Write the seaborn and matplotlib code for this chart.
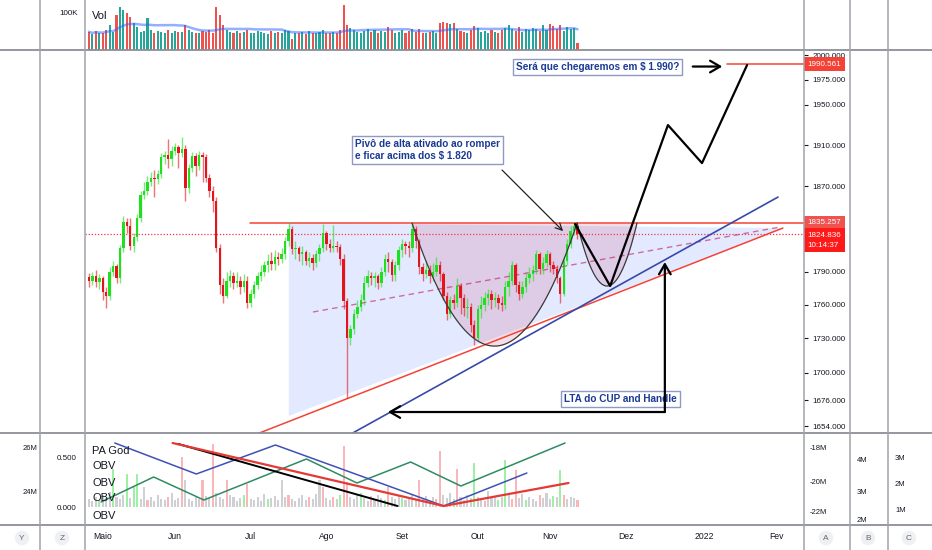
import numpy as np
import pandas as pd
import matplotlib
matplotlib.use("Agg")
import matplotlib.pyplot as plt
from matplotlib import font_manager
from matplotlib.lines import Line2D
import seaborn as sns

# DATA: daily gold candles, first bar 2021-04-27 (business days)
opens = [1785,1782,1786,1781,1784,1772,1768,1790,1795,1784,
         1812,1836,1832,1814,1822,1840,1862,1866,1874,1878,
         1877,1882,1898,1900,1896,1904,1908,1902,1906,1868,
         1888,1899,1890,1900,1898,1878,1866,1856,1812,1778,
         1768,1782,1786,1780,1782,1776,1782,1762,1770,1778,
         1786,1790,1796,1800,1797,1804,1802,1806,1818,1830,
         1811,1812,1806,1808,1800,1803,1798,1806,1812,1826,
         1816,1812,1814,1813,1802,1763,1730,1738,1752,1758,
         1764,1780,1786,1784,1786,1780,1790,1802,1799,1787,
         1796,1810,1816,1814,1812,1830,1818,1794,1788,1792,
         1786,1790,1796,1788,1768,1752,1764,1762,1777,1766,
         1757,1758,1742,1730,1756,1760,1766,1770,1764,1766,
         1762,1760,1776,1782,1796,1778,1770,1776,1784,1788,
         1792,1806,1793,1798,1806,1796,1793,1784,1770,1800,
         1816,1828,1832]
closes = [1782,1786,1781,1784,1772,1768,1790,1795,1784,1812,
          1836,1832,1814,1822,1840,1862,1866,1874,1878,1877,
          1882,1898,1900,1896,1904,1908,1902,1906,1868,1888,
          1899,1890,1900,1898,1878,1866,1856,1812,1778,1768,
          1782,1786,1780,1782,1776,1782,1762,1770,1778,1786,
          1790,1796,1800,1797,1804,1802,1806,1818,1830,1811,
          1812,1806,1808,1800,1803,1798,1806,1812,1826,1816,
          1812,1814,1813,1802,1763,1730,1738,1752,1758,1764,
          1780,1786,1784,1786,1780,1790,1802,1799,1787,1796,
          1810,1816,1814,1812,1830,1818,1794,1788,1792,1786,
          1790,1796,1788,1768,1752,1764,1762,1777,1766,1757,
          1758,1742,1730,1756,1760,1766,1770,1764,1766,1762,
          1760,1776,1782,1796,1778,1770,1776,1784,1788,1792,
          1806,1793,1798,1806,1796,1793,1784,1770,1800,1816,
          1828,1832,1825]
highs = [1789,1790,1792,1788,1786,1776,1794,1800,1797,1815,
         1842,1840,1840,1826,1844,1866,1874,1880,1884,1886,
         1886,1902,1904,1916,1909,1912,1910,1918,1910,1892,
         1903,1902,1904,1903,1901,1882,1870,1860,1816,1784,
         1790,1792,1790,1790,1786,1788,1786,1774,1782,1790,
         1796,1800,1806,1808,1810,1808,1812,1822,1836,1832,
         1818,1814,1814,1810,1808,1806,1810,1816,1834,1828,
         1820,1833,1818,1816,1806,1766,1742,1756,1764,1770,
         1786,1792,1790,1790,1788,1794,1806,1808,1802,1800,
         1814,1820,1818,1818,1835,1832,1820,1798,1800,1796,
         1798,1804,1800,1790,1772,1768,1770,1784,1780,1770,
         1766,1762,1746,1760,1768,1772,1774,1773,1772,1770,
         1768,1782,1790,1800,1798,1782,1782,1790,1794,1796,
         1810,1808,1804,1810,1808,1800,1796,1786,1804,1820,
         1832,1836,1834]
lows = [1776,1778,1776,1774,1764,1757,1764,1786,1780,1780,
        1808,1826,1810,1808,1818,1836,1858,1862,1870,1860,
        1872,1878,1892,1888,1890,1900,1888,1898,1856,1864,
        1884,1880,1886,1874,1874,1860,1846,1808,1770,1762,
        1766,1776,1774,1776,1770,1772,1757,1758,1766,1774,
        1782,1786,1790,1792,1792,1796,1798,1802,1814,1806,
        1802,1800,1796,1796,1794,1792,1794,1800,1808,1810,
        1808,1808,1808,1796,1756,1678,1724,1734,1748,1754,
        1760,1776,1778,1776,1774,1776,1786,1790,1782,1782,
        1792,1804,1806,1804,1808,1812,1788,1782,1784,1780,
        1782,1786,1782,1764,1746,1748,1756,1758,1752,1750,
        1748,1736,1724,1728,1748,1754,1760,1756,1758,1756,
        1754,1756,1768,1778,1772,1764,1766,1772,1780,1782,
        1788,1788,1788,1794,1790,1788,1780,1762,1768,1796,
        1812,1824,1820]
volumes_k = [48,42,50,44,46,52,66,48,92,113,
             105,98,88,70,60,48,50,85,52,46,
             50,48,46,52,44,50,48,47,66,52,
             48,46,44,50,48,52,46,113,92,66,
             52,48,46,50,44,48,52,46,44,50,
             48,46,42,50,44,48,46,52,50,30,
             46,44,48,42,50,44,46,48,52,46,
             44,48,46,52,118,66,58,52,48,46,
             50,54,48,52,46,50,48,60,52,46,
             48,52,46,50,54,48,56,46,44,48,
             50,46,72,74,70,68,72,54,50,48,
             46,52,62,58,48,50,46,52,48,44,
             52,58,66,54,50,60,48,56,52,58,
             54,50,66,52,68,62,56,66,50,60,
             54,58,18]
# lower pane histogram (PA God scale) and its colour code: g grey, r red, v green
ind_hist = [0.08,0.06,0.10,0.07,0.12,0.09,0.15,0.38,0.10,0.08,
            0.12,0.33,0.09,0.20,0.33,0.08,0.20,0.07,0.10,0.06,
            0.12,0.08,0.07,0.10,0.14,0.07,0.09,0.50,0.27,0.08,
            0.06,0.10,0.08,0.27,0.11,0.09,0.63,0.14,0.10,0.08,
            0.27,0.12,0.10,0.06,0.09,0.12,0.23,0.08,0.07,0.10,
            0.06,0.13,0.08,0.09,0.11,0.07,0.27,0.10,0.12,0.08,
            0.06,0.09,0.12,0.07,0.10,0.08,0.13,0.27,0.20,0.09,
            0.07,0.10,0.08,0.12,0.61,0.25,0.10,0.08,0.12,0.14,
            0.09,0.06,0.11,0.08,0.12,0.09,0.07,0.20,0.10,0.08,
            0.12,0.09,0.07,0.10,0.13,0.08,0.27,0.09,0.11,0.07,
            0.10,0.08,0.56,0.12,0.09,0.14,0.08,0.38,0.10,0.07,
            0.12,0.09,0.44,0.10,0.08,0.06,0.16,0.09,0.11,0.07,
            0.10,0.47,0.12,0.08,0.37,0.09,0.13,0.07,0.10,0.08,
            0.06,0.12,0.09,0.14,0.08,0.11,0.10,0.37,0.12,0.08,
            0.10,0.09,0.07]
ind_codes = "".join(["gggvgggvgg", "gvgvvggrgg", "gggrgggrgg", "gggrggrggg",
                     "rggggvrggg", "ggvgggggrg", "ggggrgggrg", "grgvrrgggv",
                     "ggrgggvrgg", "gvggggrggg", "grrgggvrgg", "ggvggrgggv",
                     "gvgrrggvgg", "grgggvgvrg", "ggr"])

month_labels = ["Maio", "Jun", "Jul", "Ago", "Set", "Out", "Nov", "Dez", "2022", "Fev"]
price_ticks = [2000, 1975, 1950, 1910, 1870, 1790, 1760, 1730, 1700, 1676, 1654]

# drawn levels and tools (bar index, price)
resistance = 1835.257
last_price = 1824.836
target = 1990.561
proj_x = [141.3, 151.5, 168.3, 178.2, 191.3]
proj_y = [1834.3, 1777.0, 1929.6, 1892.4, 1989.8]
lta_blue_x = [73.0, 200.3]
lta_blue_y = [1642.3, 1859.8]
lower_red_x = [49.1, 201.7]
lower_red_y = [1647.7, 1830.5]
tri_x = [58.1, 58.1, 202.3]
tri_y = [1835.3, 1662.6, 1830.5]
mid_x = [65.1, 200.9]
mid_y = [1753.5, 1831.5]
cup_span = (93.9, 141.9)
cup_bottom = 1723.2
handle_span = (141.9, 159.3)
handle_bottom = 1777.0

# indicator pane drawings
ind_green_x = [3.5, 18.8, 33.4, 63.2, 77.9, 93.5, 108.1, 138.4]
ind_green_y = [0.05, 0.30, 0.07, 0.48, 0.24, 0.45, 0.21, 0.64]
ind_blue_x = [7.5, 31.2, 54.2, 103.1, 127.3]
ind_blue_y = [0.64, 0.33, 0.62, 0.01, 0.34]
ind_red_x = [24.3, 103.1, 139.4]
ind_red_y = [0.64, 0.01, 0.24]
ind_black_x = [26.0, 89.7]
ind_black_y = [0.63, 0.01]

sns.set_theme(style="white")
names = {f.name for f in font_manager.fontManager.ttflist}
if "Liberation Sans Narrow" in names:
    base_font, note_size, tick_size = "Liberation Sans Narrow", 8.5, 6.5
else:
    base_font, note_size, tick_size = "Liberation Sans", 7.2, 5.8
plt.rcParams["font.family"] = [base_font, "DejaVu Sans"]

W, H = 932, 550
fig = plt.figure(figsize=(W / 100, H / 100), dpi=100)
fig.patch.set_facecolor("white")


def rect(x0, y0, x1, y1):
    return [x0 / W, 1 - y1 / H, (x1 - x0) / W, (y1 - y0) / H]


ax_vol = fig.add_axes(rect(85, 0, 804, 50))
ax = fig.add_axes(rect(85, 50, 804, 433))
ax_ind = fig.add_axes(rect(85, 433, 804, 525))

n = len(closes)
x = np.arange(n)
o = np.array(opens, float)
c = np.array(closes, float)
hi = np.array(highs, float)
lo = np.array(lows, float)
up = c >= o
xlim = (-1.16, 207.85)

# volume pane
vol_cols = np.where(up, "#26a69a", "#ef5350")
ax_vol.bar(x, volumes_k, width=0.6, color=vol_cols, linewidth=0)
vol_ma = pd.Series(volumes_k).rolling(20, min_periods=1).mean()
sns.lineplot(x=x, y=vol_ma.values, ax=ax_vol, color="#2962ff", alpha=0.5, lw=1.8)
ax_vol.set_xlim(*xlim)
ax_vol.set_ylim(0, 131.6)
ax_vol.set_xticks([])
ax_vol.set_yticks([100])
ax_vol.set_yticklabels(["100K"])
ax_vol.tick_params(axis="y", length=0, pad=5, labelsize=tick_size, colors="#131722")
ax_vol.text(0.01, 0.68, "Vol", transform=ax_vol.transAxes, fontsize=8, color="#131722", va="center")

# main pane
ax.set_yscale("log")
ax.set_xlim(*xlim)
ax.set_ylim(1648.2, 2005.2)

ax.fill(tri_x, tri_y, color="#2962ff", alpha=0.13, lw=0)
sns.lineplot(x=mid_x, y=mid_y, ax=ax, color="#c2185b", alpha=0.6, lw=1, dashes=(4, 3), sort=False)

cup_t = np.linspace(cup_span[0], cup_span[1], 120)
cup_c = (cup_span[0] + cup_span[1]) / 2
cup_h = (cup_span[1] - cup_span[0]) / 2
cup_log = np.log(resistance) - (np.log(resistance) - np.log(cup_bottom)) * (1 - ((cup_t - cup_c) / cup_h) ** 2)
han_t = np.linspace(handle_span[0], handle_span[1], 60)
han_c = (handle_span[0] + handle_span[1]) / 2
han_h = (handle_span[1] - handle_span[0]) / 2
han_log = np.log(resistance) - (np.log(resistance) - np.log(handle_bottom)) * (1 - ((han_t - han_c) / han_h) ** 2)
ax.fill_between(cup_t, np.exp(cup_log), resistance, color="#c2185b", alpha=0.14, lw=0)
ax.fill_between(han_t, np.exp(han_log), resistance, color="#c2185b", alpha=0.14, lw=0)

ax.axhline(resistance, xmin=(46.8 - xlim[0]) / (xlim[1] - xlim[0]), color="#f44336", lw=1.1)
ax.axhline(last_price, color="#f23645", lw=0.9, ls=(0, (1, 1.5)))
ax.axhline(target, xmin=(185.5 - xlim[0]) / (xlim[1] - xlim[0]), color="#f44336", lw=1.1)

sns.lineplot(x=lower_red_x, y=lower_red_y, ax=ax, color="#f44336", lw=1.1, sort=False)
sns.lineplot(x=lta_blue_x, y=lta_blue_y, ax=ax, color="#3949ab", lw=1.2, sort=False)

# candles
body_cols = np.where(up, "#1ee01e", "#e3141c")
ax.vlines(x, lo, hi, colors=body_cols, lw=1.0, alpha=0.6)
ax.bar(x, np.maximum(np.abs(c - o), 0.8), bottom=np.minimum(o, c), width=0.7,
       color=body_cols, linewidth=0)

ax.plot(cup_t, np.exp(cup_log), color="#3a3a3a", lw=0.9)
ax.plot(han_t, np.exp(han_log), color="#3a3a3a", lw=0.9)
sns.lineplot(x=proj_x, y=proj_y, ax=ax, color="black", lw=1.6, sort=False)

# annotations
box = dict(boxstyle="square,pad=0.3", fc="white", ec="#8e99c4", lw=1)
txt_kw = dict(color="#1a3a94", fontsize=note_size, fontweight="bold")
ax.text(77.3, 1915.8, "Pivô de alta ativado ao romper\ne ficar acima dos $ 1.820",
        ha="left", va="top", bbox=box, linespacing=1.3, **txt_kw)
ax.annotate("", xy=(138.4, 1825.8), xytext=(119.5, 1887.6),
            arrowprops=dict(arrowstyle="->", color="#222", lw=0.9))
ax.text(124.1, 1988.3, "Será que chegaremos em $ 1.990?", ha="left", va="center", bbox=box, **txt_kw)
ax.annotate("", xy=(184.9, 1988.3), xytext=(174.7, 1988.3),
            arrowprops=dict(arrowstyle="->,head_length=0.6,head_width=0.35", color="black", lw=1.6))
ax.text(138.1, 1677.1, "LTA do CUP and Handle", ha="left", va="center", bbox=box, **txt_kw)
ax.annotate("", xy=(86.9, 1666.0), xytext=(167.4, 1666.0),
            arrowprops=dict(arrowstyle="->,head_length=0.6,head_width=0.35", color="black", lw=1.6,
                            shrinkA=0, shrinkB=0))
ax.annotate("", xy=(167.4, 1798.9), xytext=(167.4, 1666.0),
            arrowprops=dict(arrowstyle="->,head_length=0.6,head_width=0.35", color="black", lw=1.6,
                            shrinkA=0, shrinkB=0))

ax.set_xticks([])
ax.set_yticks(price_ticks)
ax.set_yticklabels([f"{p:.3f}" for p in price_ticks])
ax.yaxis.set_minor_locator(matplotlib.ticker.NullLocator())
ax.yaxis.tick_right()
ax.tick_params(axis="y", length=3, width=0.8, pad=3, labelsize=tick_size, colors="#131722")

lab_tf = ax.get_yaxis_transform()
lab_kw = dict(transform=lab_tf, ha="left", va="center", color="white", fontsize=tick_size)
ax.text(1.005, target, "1990.561", bbox=dict(boxstyle="square,pad=0.45", fc="#f44336", ec="none"), **lab_kw)
ax.text(1.005, resistance, "1835.257", bbox=dict(boxstyle="square,pad=0.45", fc="#ef5350", ec="none"), **lab_kw)
ax.text(1.005, 1819.3, "1824.836\n10:14:37", linespacing=1.6,
        bbox=dict(boxstyle="square,pad=0.45", fc="#ff1a1a", ec="none"), **lab_kw)

# indicator pane
code_cols = {"g": "#9598a1", "r": "#f77c80", "v": "#5ee66a"}
code_alpha = {"g": 0.45, "r": 0.55, "v": 0.6}
for code in "grv":
    m = np.array([ch == code for ch in ind_codes])
    ax_ind.bar(x[m], np.array(ind_hist)[m], width=0.6, color=code_cols[code], alpha=code_alpha[code], linewidth=0)
sns.lineplot(x=ind_green_x, y=ind_green_y, ax=ax_ind, color="#2e8b62", lw=1.1, sort=False)
sns.lineplot(x=ind_blue_x, y=ind_blue_y, ax=ax_ind, color="#3f51b5", lw=1.1, sort=False)
sns.lineplot(x=ind_black_x, y=ind_black_y, ax=ax_ind, color="black", lw=1.4, sort=False)
sns.lineplot(x=ind_red_x, y=ind_red_y, ax=ax_ind, color="#e53935", lw=1.6, sort=False)
ax_ind.set_xlim(*xlim)
ax_ind.set_ylim(-0.18, 0.74)
ax_ind.set_yticks([0, 0.5])
ax_ind.set_yticklabels(["0.000", "0.500"])
ax_ind.tick_params(axis="y", length=0, pad=6, labelsize=tick_size, colors="#131722")

dates = pd.bdate_range("2021-04-27", periods=215)
pos = pd.Series(np.arange(len(dates)), index=dates)
firsts = pos.groupby([dates.year, dates.month]).first().values[1:1 + len(month_labels)]
ax_ind.set_xticks(firsts)
ax_ind.set_xticklabels(month_labels)
ax_ind.tick_params(axis="x", length=0, pad=5, labelsize=tick_size + 0.4, colors="#131722")

pix_y = matplotlib.transforms.blended_transform_factory(
    ax_ind.transAxes, matplotlib.transforms.Affine2D().scale(1, -1).translate(0, H))
for lab, py in zip(["PA God", "OBV", "OBV", "OBV", "OBV"], [451, 466, 483, 498, 516]):
    ax_ind.text(0.01, py, lab, fontsize=8, color="#131722", va="center", transform=pix_y)

for a in (ax_vol, ax, ax_ind):
    for s in a.spines.values():
        s.set_visible(False)
    a.set_facecolor("none")


# pane separators and side scales
def fx(px):
    return px / W


def fy(py):
    return 1 - py / H


for py in (50, 433, 525):
    fig.add_artist(Line2D([0, 1], [fy(py), fy(py)], color="#8c8f98", lw=1.3))
for px in (40, 85, 804, 850, 888):
    fig.add_artist(Line2D([fx(px), fx(px)], [0, 1], color="#a0a3ab", lw=1.1))

side = [("26M", 37, 448, "right"), ("24M", 37, 492, "right"),
        ("-18M", 810, 448, "left"), ("-20M", 810, 483, "left"), ("-22M", 810, 513, "left"),
        ("4M", 857, 461, "left"), ("3M", 857, 492, "left"), ("2M", 857, 520, "left"),
        ("3M", 895, 458, "left"), ("2M", 895, 485, "left"), ("1M", 895, 510, "left")]
for lab, px, py, ha in side:
    fig.text(fx(px), fy(py), lab, fontsize=tick_size - 0.3, color="#131722", ha=ha, va="center")

for lab, px in (("Y", 22), ("Z", 62), ("A", 826), ("B", 868), ("C", 909)):
    fig.text(fx(px), fy(538), lab, fontsize=6, color="#666", ha="center", va="center",
             bbox=dict(boxstyle="circle,pad=0.45", fc="#eef0f4", ec="none"))

fig.savefig("out.png", dpi=100)
